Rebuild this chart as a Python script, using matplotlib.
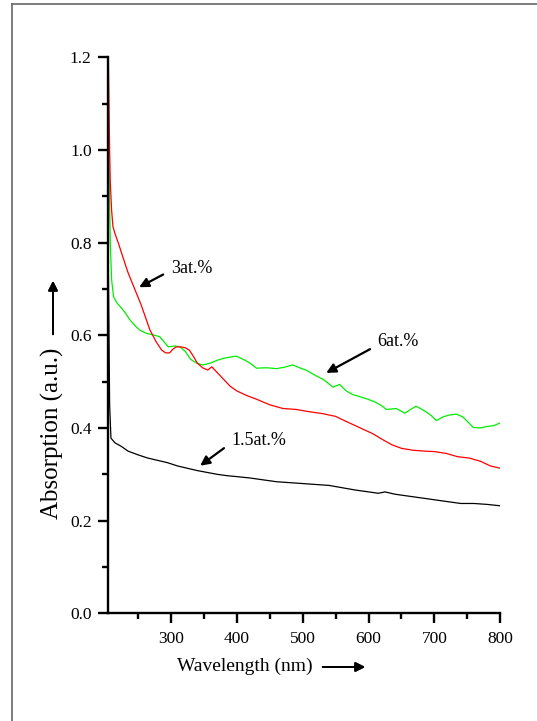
import numpy as np
import matplotlib.pyplot as plt
from matplotlib.lines import Line2D
from matplotlib.ticker import MultipleLocator, FormatStrFormatter

plt.rcParams['font.family'] = ['Liberation Serif', 'DejaVu Serif']

# 1.5 at.%
wl_15 = [205, 207, 209, 215, 225, 235, 250, 265, 280, 295, 310, 325, 340, 355, 370, 385, 400,
         420, 440, 460, 480, 500, 520, 540, 560, 580, 600, 615, 625, 640, 660, 680, 700, 720,
         740, 760, 780, 800]
ab_15 = [0.75, 0.45, 0.378, 0.368, 0.360, 0.350, 0.342, 0.335, 0.330, 0.325, 0.318, 0.313,
         0.308, 0.304, 0.300, 0.297, 0.295, 0.292, 0.288, 0.284, 0.282, 0.280, 0.278, 0.276,
         0.271, 0.266, 0.262, 0.259, 0.262, 0.257, 0.253, 0.249, 0.245, 0.241, 0.237, 0.237,
         0.235, 0.232]

# 3 at.%
wl_3 = [205, 206, 207, 208, 210, 212, 215, 220, 228, 235, 245, 255, 268, 278, 286, 292, 298,
        303, 308, 315, 322, 328, 334, 340, 348, 356, 362, 370, 380, 390, 400, 415, 430, 450,
        470, 490, 510, 530, 550, 566, 580, 595, 606, 620, 635, 650, 667, 685, 700, 718, 735,
        753, 770, 785, 800]
ab_3 = [1.2, 1.1, 1.0, 0.93, 0.87, 0.835, 0.82, 0.80, 0.765, 0.735, 0.700, 0.665, 0.612,
        0.585, 0.568, 0.562, 0.562, 0.570, 0.575, 0.575, 0.573, 0.568, 0.555, 0.540, 0.530,
        0.525, 0.532, 0.520, 0.505, 0.490, 0.480, 0.470, 0.462, 0.450, 0.442, 0.440, 0.435,
        0.431, 0.425, 0.414, 0.405, 0.395, 0.388, 0.376, 0.364, 0.356, 0.352, 0.350, 0.349,
        0.345, 0.338, 0.335, 0.328, 0.318, 0.313]

# 6 at.%
wl_6 = [205, 206, 207, 208, 210, 213, 218, 223, 230, 238, 246, 253, 263, 273, 283, 296, 305,
        314, 322, 330, 339, 348, 360, 370, 379, 390, 399, 410, 420, 430, 445, 460, 472, 485,
        495, 505, 521, 531, 540, 546, 556, 566, 576, 586, 597, 610, 620, 627, 635, 642, 655,
        664, 672, 680, 687, 695, 703, 713, 723, 733, 743, 750, 759, 769, 779, 790, 800]
ab_6 = [1.05, 0.98, 0.88, 0.80, 0.72, 0.683, 0.670, 0.662, 0.650, 0.633, 0.620, 0.611, 0.604,
        0.601, 0.597, 0.575, 0.577, 0.575, 0.565, 0.548, 0.540, 0.536, 0.540, 0.546, 0.550,
        0.553, 0.555, 0.548, 0.540, 0.529, 0.530, 0.528, 0.531, 0.536, 0.530, 0.525, 0.512,
        0.505, 0.495, 0.488, 0.494, 0.480, 0.472, 0.468, 0.463, 0.456, 0.448, 0.440, 0.441,
        0.442, 0.432, 0.440, 0.447, 0.441, 0.435, 0.427, 0.416, 0.424, 0.428, 0.430, 0.424,
        0.414, 0.401, 0.400, 0.403, 0.405, 0.411]

fig = plt.figure(figsize=(5.37, 7.21), dpi=100)
ax = fig.add_axes([0.2017, 0.1494, 0.73, 0.7711])

ax.plot(wl_15, ab_15, color='black', lw=0.9)
ax.plot(wl_6, ab_6, color='#00ee00', lw=0.9)
ax.plot(wl_3, ab_3, color='red', lw=0.9)

ax.set_xlim(205, 800)
ax.set_ylim(0, 1.2)
ax.xaxis.set_major_locator(MultipleLocator(100))
ax.xaxis.set_minor_locator(MultipleLocator(50))
ax.yaxis.set_major_locator(MultipleLocator(0.2))
ax.yaxis.set_minor_locator(MultipleLocator(0.1))
ax.yaxis.set_major_formatter(FormatStrFormatter('%.1f'))
ax.spines['top'].set_visible(False)
ax.spines['right'].set_visible(False)
for s in ['left', 'bottom']:
    ax.spines[s].set_linewidth(1.7)
ax.tick_params(which='major', direction='out', length=7, width=1.7, labelsize=12.5)
ax.tick_params(which='minor', direction='out', length=4, width=1.7)
ax.tick_params(axis='x', pad=6)
ax.tick_params(axis='y', pad=5)

arrow = dict(arrowstyle='-|>', color='black', lw=1.6, mutation_scale=14)
ax.annotate('', xy=(248, 0.701), xytext=(292, 0.734), arrowprops=arrow)
ax.text(301, 0.745, '3at.%', fontsize=13, ha='left', va='center')
ax.annotate('', xy=(532, 0.516), xytext=(606, 0.573), arrowprops=arrow)
ax.text(613, 0.586, '6at.%', fontsize=13, ha='left', va='center')
ax.annotate('', xy=(341, 0.315), xytext=(384, 0.360), arrowprops=arrow)
ax.text(392, 0.374, '1.5at.%', fontsize=13, ha='left', va='center')

# axis labels with arrows
fig.text(245 / 537, 1 - 666 / 721, 'Wavelength (nm)', fontsize=14, ha='center', va='center')
fig.add_artist(plt.annotate('', xy=(368 / 537, 1 - 667 / 721), xytext=(320 / 537, 1 - 667 / 721),
                            xycoords='figure fraction', textcoords='figure fraction',
                            arrowprops=dict(arrowstyle='-|>', color='black', lw=1.4, mutation_scale=14)))
fig.text(52 / 537, 1 - 433 / 721, 'Absorption (a.u.)', fontsize=18, ha='center', va='center',
         rotation=90)
fig.add_artist(plt.annotate('', xy=(53 / 537, 1 - 278 / 721), xytext=(53 / 537, 1 - 337 / 721),
                            xycoords='figure fraction', textcoords='figure fraction',
                            arrowprops=dict(arrowstyle='-|>', color='black', lw=1.4, mutation_scale=14)))

# gray page frame
fig.add_artist(Line2D([12 / 537, 12 / 537], [0, 1 - 4 / 721], color='#666666', lw=1.2))
fig.add_artist(Line2D([12 / 537, 1], [1 - 4 / 721, 1 - 4 / 721], color='#666666', lw=1.2))

fig.savefig('out.png', dpi=100)
